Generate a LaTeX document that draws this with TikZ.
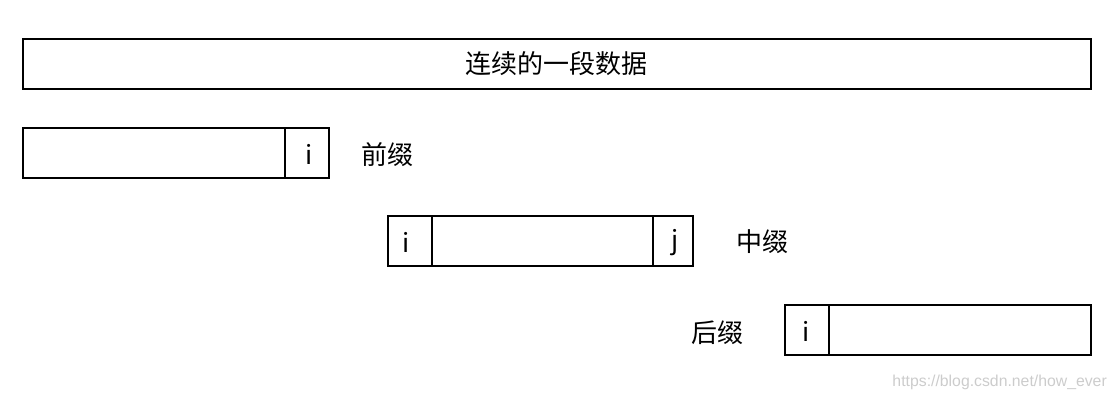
\documentclass[tikz,border=0pt]{standalone}
\usepackage{fontspec}
\setmainfont{Noto Sans CJK SC}
\begin{document}
\begin{tikzpicture}[x=1pt,y=-1pt,
  cell/.style={draw=black,line width=1.5pt,minimum height=50pt,inner sep=0pt,anchor=north west},
  txt/.style={font=\fontsize{26}{30}\selectfont,inner sep=0pt},
  letter/.style={font=\fontsize{26}{30}\selectfont,inner sep=0pt},
  wm/.style={font=\fontspec{Liberation Sans}\fontsize{15.8}{18}\selectfont,text=black!20,inner sep=0pt}]
\useasboundingbox (0,0) rectangle (1117,400);
% full data
\node[cell,minimum width=1068pt] (all) at (22,38) {};
\node[txt] (allt) at (all.center) {连续的一段数据};
% prefix
\node[cell,minimum width=262pt] (p1) at (22,127) {};
\node[cell,minimum width=44pt] (p2) at (284,127) {};
\node[letter] (pi) at ([xshift=2pt,yshift=-2pt]p2.center) {i};
\node[txt] (pl) at (387,155) {前缀};
% infix
\node[cell,minimum width=44pt] (m1) at (387,215) {};
\node[cell,minimum width=221pt] (m2) at (431,215) {};
\node[cell,minimum width=40pt] (m3) at (652,215) {};
\node[letter] (mi) at ([xshift=-4pt,yshift=-2pt]m1.center) {i};
\node[letter] (mj) at ([xshift=2pt,yshift=-2pt]m3.center) {j};
\node[txt] (ml) at (762,242) {中缀};
% suffix
\node[cell,minimum width=44pt] (s1) at (784,304) {};
\node[cell,minimum width=262pt] (s2) at (828,304) {};
\node[letter] (si) at ([xshift=-1pt,yshift=-2pt]s1.center) {i};
\node[txt] (sl) at (717,333) {后缀};
% watermark
\node[wm,anchor=east] (wmk) at (1107,382) {https://blog.csdn.net/how\_ever};
\end{tikzpicture}
\end{document}
